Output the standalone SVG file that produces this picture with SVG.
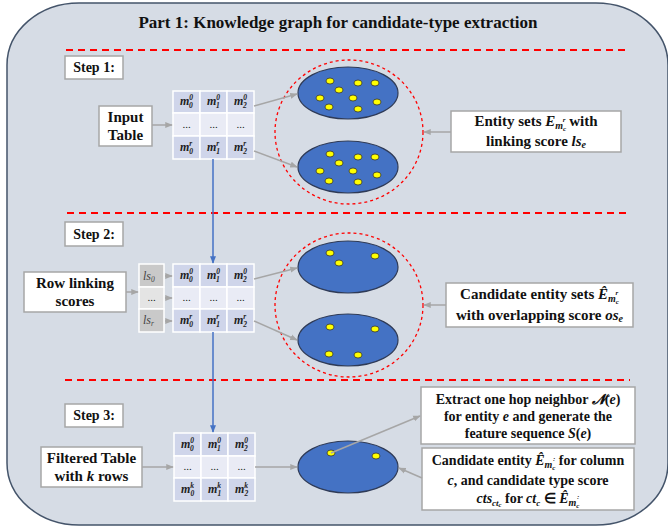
<svg xmlns="http://www.w3.org/2000/svg" width="668" height="529" viewBox="0 0 668 529">
<defs>
<style>
.bg{fill:#d6dce5;stroke:#44546a;stroke-width:1.5}
.title{font-family:"Liberation Serif",serif;font-weight:bold;font-size:17px;fill:#111}
.sep{stroke:#ff0000;stroke-width:2;stroke-dasharray:7 5;fill:none}
.box{fill:#fff;stroke:#a6a6a6;stroke-width:1.5}
.bt{font-family:"Liberation Serif",serif;font-weight:bold;font-size:15px;fill:#111;text-anchor:middle}
.bt2{font-family:"Liberation Serif",serif;font-weight:bold;font-size:14px;fill:#111;text-anchor:middle}
.mi{font-style:italic}
.cA{fill:#cfd5ea;stroke:#fff;stroke-width:1.5}
.cB{fill:#e9ebf5;stroke:#fff;stroke-width:1.5}
.lA{fill:#c9c9c9;stroke:#fff;stroke-width:1.5}
.lB{fill:#e4e4e4;stroke:#fff;stroke-width:1.5}
.m{font-family:"Liberation Serif",serif;font-weight:bold;font-style:italic;font-size:12px;fill:#222}
.s{font-size:7.5px}
.dots{font-family:"Liberation Serif",serif;font-size:11px;fill:#222;text-anchor:middle}
.ls{font-family:"Liberation Serif",serif;font-style:italic;font-size:12px;fill:#444}
.ell{fill:#4472c4;stroke:#2f3b57;stroke-width:1.2}
.dot{fill:#ffff00;stroke:#333;stroke-width:0.8}
.ring{fill:none;stroke:#ff0000;stroke-width:1.3;stroke-dasharray:3 3}
.ga{stroke:#a6a6a6;stroke-width:1.5;fill:none;marker-end:url(#ag)}
.ba{stroke:#4472c4;stroke-width:1.5;fill:none}
.bam{marker-end:url(#ab)}
</style>
<marker id="ag" viewBox="0 0 10 10" refX="9" refY="5" markerWidth="5" markerHeight="5" orient="auto"><path d="M0,1 L10,5 L0,9 z" fill="#a6a6a6"/></marker>
<marker id="ab" viewBox="0 0 10 10" refX="9" refY="5" markerWidth="5" markerHeight="5" orient="auto"><path d="M0,1 L10,5 L0,9 z" fill="#4472c4"/></marker>
</defs>

<rect class="bg" x="7" y="3" width="661" height="522" rx="72" ry="62"/>
<text class="title" x="338" y="28" text-anchor="middle">Part 1: Knowledge graph for candidate-type extraction</text>
<line class="sep" x1="66" y1="50" x2="630" y2="50"/>
<line class="sep" x1="67" y1="213" x2="630" y2="213"/>
<line class="sep" x1="65" y1="380" x2="630" y2="380"/>

<!-- Step 1 -->
<g id="step1"><rect class="box" x="65" y="56" width="58" height="23"/><text class="bt2" x="94" y="72">Step 1:</text></g>
<g id="input-table"><rect class="box" x="99" y="106" width="53" height="40"/><text class="bt" x="125.5" y="122">Input</text><text class="bt" x="125.5" y="140">Table</text></g>
<g id="table1">
<rect class="cA" x="173" y="91" width="27" height="22"/><rect class="cA" x="200" y="91" width="27" height="22"/><rect class="cA" x="227" y="91" width="27" height="22"/>
<rect class="cB" x="173" y="113" width="27" height="23"/><rect class="cB" x="200" y="113" width="27" height="23"/><rect class="cB" x="227" y="113" width="27" height="23"/>
<rect class="cA" x="173" y="136" width="27" height="23"/><rect class="cA" x="200" y="136" width="27" height="23"/><rect class="cA" x="227" y="136" width="27" height="23"/>
<text class="m" x="180" y="105">m<tspan class="s" dy="-5">0</tspan><tspan class="s" dx="-4" dy="8">0</tspan></text>
<text class="m" x="207" y="105">m<tspan class="s" dy="-5">0</tspan><tspan class="s" dx="-4" dy="8">1</tspan></text>
<text class="m" x="234" y="105">m<tspan class="s" dy="-5">0</tspan><tspan class="s" dx="-4" dy="8">2</tspan></text>
<text class="dots" x="186.5" y="128">...</text><text class="dots" x="213.5" y="128">...</text><text class="dots" x="240.5" y="128">...</text>
<text class="m" x="180" y="151">m<tspan class="s" dy="-5">r</tspan><tspan class="s" dx="-3" dy="8">0</tspan></text>
<text class="m" x="207" y="151">m<tspan class="s" dy="-5">r</tspan><tspan class="s" dx="-3" dy="8">1</tspan></text>
<text class="m" x="234" y="151">m<tspan class="s" dy="-5">r</tspan><tspan class="s" dx="-3" dy="8">2</tspan></text>
</g>
<g id="entity-sets-1">
<ellipse class="ring" cx="349" cy="132" rx="74" ry="72"/>
<ellipse class="ell" cx="348" cy="93" rx="50" ry="26"/>
<ellipse class="dot" cx="330" cy="81" rx="4" ry="3"/><ellipse class="dot" cx="339" cy="90" rx="4" ry="3"/><ellipse class="dot" cx="358" cy="83" rx="4" ry="3"/><ellipse class="dot" cx="375" cy="83" rx="4" ry="3"/><ellipse class="dot" cx="320" cy="98" rx="4" ry="3"/><ellipse class="dot" cx="353" cy="98" rx="4" ry="3"/><ellipse class="dot" cx="377" cy="102" rx="4" ry="3"/><ellipse class="dot" cx="329" cy="107" rx="4" ry="3"/><ellipse class="dot" cx="358" cy="109" rx="4" ry="3"/>
<ellipse class="ell" cx="348" cy="167" rx="50" ry="26"/>
<ellipse class="dot" cx="330" cy="154" rx="4" ry="3"/><ellipse class="dot" cx="339" cy="163" rx="4" ry="3"/><ellipse class="dot" cx="358" cy="157" rx="4" ry="3"/><ellipse class="dot" cx="375" cy="157" rx="4" ry="3"/><ellipse class="dot" cx="320" cy="171" rx="4" ry="3"/><ellipse class="dot" cx="353" cy="171" rx="4" ry="3"/><ellipse class="dot" cx="377" cy="175" rx="4" ry="3"/><ellipse class="dot" cx="329" cy="181" rx="4" ry="3"/><ellipse class="dot" cx="358" cy="182" rx="4" ry="3"/>
</g>
<g id="entity-sets-label"><rect class="box" x="451" y="111" width="170" height="41"/>
<text class="bt" x="536" y="126">Entity sets <tspan class="mi">E</tspan><tspan class="mi" font-size="10" dy="3">m</tspan><tspan class="mi" font-size="7" dy="2">c</tspan><tspan class="mi" font-size="7" dx="-3.5" dy="-9">r</tspan><tspan dy="4"> with</tspan></text>
<text class="bt" x="536" y="146">linking score <tspan class="mi">ls</tspan><tspan class="mi" font-size="10" dy="2">e</tspan></text></g>

<!-- Step 2 -->
<g id="step2"><rect class="box" x="65" y="222" width="58" height="24"/><text class="bt2" x="94" y="239">Step 2:</text></g>
<g id="row-linking"><rect class="box" x="24" y="272" width="102" height="40"/><text class="bt" x="75" y="288">Row linking</text><text class="bt" x="75" y="306">scores</text></g>
<g id="ls-column">
<rect class="lA" x="139" y="264" width="25" height="23"/><rect class="lB" x="139" y="287" width="25" height="22"/><rect class="lA" x="139" y="309" width="25" height="23"/>
<text class="ls" x="143" y="280">ls<tspan font-size="7.5" dy="2">0</tspan></text>
<text class="dots" x="151.5" y="301">...</text>
<text class="ls" x="143" y="324">ls<tspan font-size="7.5" dy="2">r</tspan></text>
</g>
<g id="table2">
<rect class="cA" x="173" y="264" width="27" height="23"/><rect class="cA" x="200" y="264" width="27" height="23"/><rect class="cA" x="227" y="264" width="27" height="23"/>
<rect class="cB" x="173" y="287" width="27" height="22"/><rect class="cB" x="200" y="287" width="27" height="22"/><rect class="cB" x="227" y="287" width="27" height="22"/>
<rect class="cA" x="173" y="309" width="27" height="23"/><rect class="cA" x="200" y="309" width="27" height="23"/><rect class="cA" x="227" y="309" width="27" height="23"/>
<text class="m" x="180" y="279">m<tspan class="s" dy="-5">0</tspan><tspan class="s" dx="-4" dy="8">0</tspan></text>
<text class="m" x="207" y="279">m<tspan class="s" dy="-5">0</tspan><tspan class="s" dx="-4" dy="8">1</tspan></text>
<text class="m" x="234" y="279">m<tspan class="s" dy="-5">0</tspan><tspan class="s" dx="-4" dy="8">2</tspan></text>
<text class="dots" x="186.5" y="301">...</text><text class="dots" x="213.5" y="301">...</text><text class="dots" x="240.5" y="301">...</text>
<text class="m" x="180" y="324">m<tspan class="s" dy="-5">r</tspan><tspan class="s" dx="-3" dy="8">0</tspan></text>
<text class="m" x="207" y="324">m<tspan class="s" dy="-5">r</tspan><tspan class="s" dx="-3" dy="8">1</tspan></text>
<text class="m" x="234" y="324">m<tspan class="s" dy="-5">r</tspan><tspan class="s" dx="-3" dy="8">2</tspan></text>
</g>
<g id="entity-sets-2">
<ellipse class="ring" cx="349" cy="305" rx="74" ry="72"/>
<ellipse class="ell" cx="348" cy="267" rx="50" ry="26"/>
<ellipse class="dot" cx="330" cy="253" rx="4" ry="3"/><ellipse class="dot" cx="339" cy="263" rx="4" ry="3"/><ellipse class="dot" cx="375" cy="256" rx="4" ry="3"/>
<ellipse class="ell" cx="348" cy="340" rx="50" ry="26"/>
<ellipse class="dot" cx="330" cy="327" rx="4" ry="3"/><ellipse class="dot" cx="375" cy="329" rx="4" ry="3"/><ellipse class="dot" cx="329" cy="354" rx="4" ry="3"/><ellipse class="dot" cx="358" cy="355" rx="4" ry="3"/>
</g>
<g id="candidate-sets-label"><rect class="box" x="446" y="283" width="187" height="44"/>
<text class="bt" x="539.5" y="299">Candidate entity sets <tspan class="mi">Ê</tspan><tspan class="mi" font-size="10" dy="3">m</tspan><tspan class="mi" font-size="7" dy="2">c</tspan><tspan class="mi" font-size="7" dx="-3.5" dy="-9">r</tspan></text>
<text class="bt" x="539.5" y="320">with overlapping score <tspan class="mi">os</tspan><tspan class="mi" font-size="10" dy="2">e</tspan></text></g>

<!-- Step 3 -->
<g id="step3"><rect class="box" x="65" y="404" width="58" height="23"/><text class="bt2" x="94" y="420">Step 3:</text></g>
<g id="filtered-table"><rect class="box" x="41" y="447" width="101" height="40"/><text class="bt" x="91.5" y="463">Filtered Table</text><text class="bt" x="91.5" y="481">with <tspan class="mi">k</tspan> rows</text></g>
<g id="table3">
<rect class="cA" x="174" y="433" width="27" height="23"/><rect class="cA" x="201" y="433" width="27" height="23"/><rect class="cA" x="228" y="433" width="27" height="23"/>
<rect class="cB" x="174" y="456" width="27" height="22"/><rect class="cB" x="201" y="456" width="27" height="22"/><rect class="cB" x="228" y="456" width="27" height="22"/>
<rect class="cA" x="174" y="478" width="27" height="23"/><rect class="cA" x="201" y="478" width="27" height="23"/><rect class="cA" x="228" y="478" width="27" height="23"/>
<text class="m" x="181" y="448">m<tspan class="s" dy="-5">0</tspan><tspan class="s" dx="-4" dy="8">0</tspan></text>
<text class="m" x="208" y="448">m<tspan class="s" dy="-5">0</tspan><tspan class="s" dx="-4" dy="8">1</tspan></text>
<text class="m" x="235" y="448">m<tspan class="s" dy="-5">0</tspan><tspan class="s" dx="-4" dy="8">2</tspan></text>
<text class="dots" x="187.5" y="470">...</text><text class="dots" x="214.5" y="470">...</text><text class="dots" x="241.5" y="470">...</text>
<text class="m" x="181" y="493">m<tspan class="s" dy="-5">k</tspan><tspan class="s" dx="-3.5" dy="8">0</tspan></text>
<text class="m" x="208" y="493">m<tspan class="s" dy="-5">k</tspan><tspan class="s" dx="-3.5" dy="8">1</tspan></text>
<text class="m" x="235" y="493">m<tspan class="s" dy="-5">k</tspan><tspan class="s" dx="-3.5" dy="8">2</tspan></text>
</g>
<g id="candidate-entity">
<ellipse class="ell" cx="348" cy="467" rx="50" ry="26"/>
<ellipse class="dot" cx="331" cy="453" rx="4" ry="3"/><ellipse class="dot" cx="376" cy="456" rx="4" ry="3"/>
</g>
<g id="extract-label"><rect class="box" x="421" y="387" width="214" height="57"/>
<text class="bt2" x="528" y="404">Extract one hop neighbor <tspan class="mi">𝓝</tspan>(<tspan class="mi">e</tspan>)</text>
<text class="bt2" x="528" y="421">for entity <tspan class="mi">e</tspan>  and generate the</text>
<text class="bt2" x="528" y="438">feature sequence <tspan class="mi">S</tspan>(<tspan class="mi">e</tspan>)</text></g>
<g id="candidate-type-label"><rect class="box" x="422" y="448" width="212" height="62"/>
<text class="bt2" x="528" y="465">Candidate entity <tspan class="mi">Ê</tspan><tspan class="mi" font-size="10" dy="3">m</tspan><tspan class="mi" font-size="7" dy="2">c</tspan><tspan class="mi" font-size="7" dx="-2.5" dy="-9">:</tspan><tspan dy="4"> for column</tspan></text>
<text class="bt2" x="528" y="485"><tspan class="mi">c</tspan>, and candidate type score</text>
<text class="bt2" x="528" y="503"><tspan class="mi">cts</tspan><tspan class="mi" font-size="9" dy="3">ct</tspan><tspan class="mi" font-size="6.5" dy="1">c</tspan><tspan dy="-4"> for </tspan><tspan class="mi">ct</tspan><tspan class="mi" font-size="9" dy="3">c</tspan><tspan dy="-3"> ∈ </tspan><tspan class="mi">Ê</tspan><tspan class="mi" font-size="10" dy="3">m</tspan><tspan class="mi" font-size="7" dy="2">c</tspan><tspan class="mi" font-size="7" dx="-2.5" dy="-9">:</tspan></text></g>

<g id="connectors">
<line class="ga" x1="152" y1="125" x2="172" y2="125"/>
<line class="ga" x1="254" y1="106" x2="297" y2="94"/>
<line class="ga" x1="254" y1="151" x2="297" y2="167"/>
<line class="ga" x1="451" y1="132" x2="424" y2="132"/>
<line class="ba bam" x1="213" y1="159" x2="213" y2="263"/>
<line class="ga" x1="126" y1="292" x2="138" y2="292"/>
<line class="ga" x1="165" y1="276" x2="172" y2="276"/>
<line class="ga" x1="165" y1="298" x2="172" y2="298"/>
<line class="ga" x1="165" y1="321" x2="172" y2="321"/>
<line class="ga" x1="254" y1="279" x2="297" y2="268"/>
<line class="ga" x1="254" y1="321" x2="297" y2="340"/>
<line class="ga" x1="446" y1="305" x2="424" y2="305"/>
<line class="ba bam" x1="213" y1="332" x2="213" y2="432"/>
<line class="ga" x1="142" y1="467" x2="173" y2="467"/>
<line class="ga" x1="255" y1="467" x2="297" y2="467"/>
<line class="ga" x1="331" y1="453" x2="420" y2="416"/>
<line class="ga" x1="422" y1="478" x2="399" y2="468"/>
</g>
</svg>
